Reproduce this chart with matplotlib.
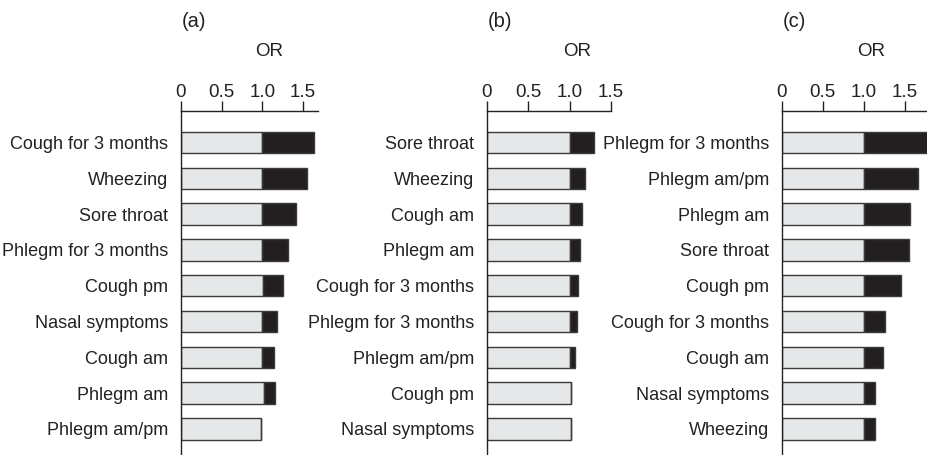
import matplotlib
matplotlib.use('Agg')
import matplotlib.pyplot as plt
import matplotlib.transforms as mtransforms

plt.rcParams['font.family'] = ['Liberation Sans', 'DejaVu Sans']

# panel (a)
labels_a = ['Cough for 3 months', 'Wheezing', 'Sore throat', 'Phlegm for 3 months',
            'Cough pm', 'Nasal symptoms', 'Cough am', 'Phlegm am', 'Phlegm am/pm']
base_a = [1.0, 1.0, 1.0, 1.0, 1.01, 1.0, 1.0, 1.025, 0.99]
or_a = [1.64, 1.55, 1.41, 1.32, 1.255, 1.18, 1.145, 1.155, 0.99]

# panel (b)
labels_b = ['Sore throat', 'Wheezing', 'Cough am', 'Phlegm am', 'Cough for 3 months',
            'Phlegm for 3 months', 'Phlegm am/pm', 'Cough pm', 'Nasal symptoms']
base_b = [1.0, 1.0, 1.0, 1.0, 1.0, 1.0, 1.0, 1.01, 1.01]
or_b = [1.29, 1.19, 1.15, 1.12, 1.10, 1.09, 1.06, 1.01, 1.01]

# panel (c)
labels_c = ['Phlegm for 3 months', 'Phlegm am/pm', 'Phlegm am', 'Sore throat', 'Cough pm',
            'Cough for 3 months', 'Cough am', 'Nasal symptoms', 'Wheezing']
base_c = [1.0, 1.0, 1.0, 1.0, 1.0, 1.0, 1.0, 1.0, 1.0]
or_c = [1.80, 1.665, 1.57, 1.555, 1.45, 1.26, 1.23, 1.135, 1.135]

panels = [('(a)', labels_a, base_a, or_a, 181, 81.3, 1.685),
          ('(b)', labels_b, base_b, or_b, 487, 82.7, 1.50),
          ('(c)', labels_c, base_c, or_c, 781.7, 82.0, 1.79)]

W, H = 928, 455
fig = plt.figure(figsize=(W / 100, H / 100), dpi=100)

gray = '#e6e7e8'
black = '#231f20'
edge = '#3a3a3a'
txt = '#222222'

for title, labels, base, ors, x0, ppu, xmax in panels:
    width_px = ppu * xmax
    ax = fig.add_axes([x0 / W, 0, width_px / W, 1 - 111 / H])
    y = list(range(len(labels)))
    extra = [max(o - b, 0) for o, b in zip(ors, base)]
    ax.barh(y, base, height=0.6, color=gray, edgecolor=edge, linewidth=1.0)
    ax.barh(y, extra, left=base, height=0.6, color=black, edgecolor=edge, linewidth=1.0)
    ax.set_xlim(0, xmax)
    ax.set_ylim(8.73, -0.88)
    ax.set_yticks(y)
    ax.set_yticklabels(labels, fontsize=13, color=txt)
    ax.tick_params(axis='y', length=0, pad=9)
    ax.xaxis.tick_top()
    ax.set_xticks([0, 0.5, 1.0, 1.5])
    ax.set_xticklabels(['0', '0.5', '1.0', '1.5'], fontsize=13.5, color=txt)
    ax.tick_params(axis='x', direction='out', length=7.5, width=1.0, pad=0, color=txt)
    for s in ['right', 'bottom']:
        ax.spines[s].set_visible(False)
    for s in ['top', 'left']:
        ax.spines[s].set_linewidth(1.0)
        ax.spines[s].set_color(txt)
    # header texts: x in data units, y in figure fraction
    bt = mtransforms.blended_transform_factory(ax.transData, fig.transFigure)
    ax.text(1.09, 1 - 51.7 / H, 'OR', fontsize=13.5, ha='center', va='center',
            transform=bt, clip_on=False, color=txt)
    ax.text(0.16, 1 - 21.7 / H, title, fontsize=14.5, ha='center', va='center',
            transform=bt, clip_on=False, color=txt)

fig.savefig('out.png', dpi=100)
